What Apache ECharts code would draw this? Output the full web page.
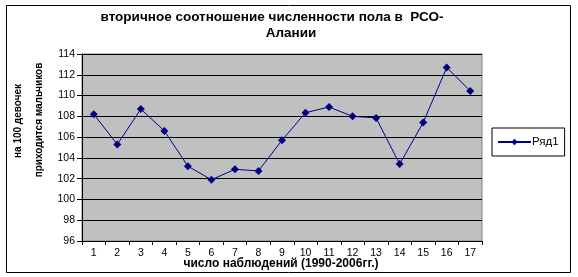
<!DOCTYPE html>
<html><head><meta charset="utf-8">
<script src="https://cdn.jsdelivr.net/npm/echarts@6/dist/echarts.min.js"></script>
<style>html,body{margin:0;padding:0;background:#fff}#c{width:578px;height:277px}</style>
</head><body><div id="c"></div>
<script>
const categories = ['1','2','3','4','5','6','7','8','9','10','11','12','13','14','15','16','17'];
const series1 = [108.2, 105.3, 108.7, 106.6, 103.2, 101.9, 102.9, 102.75, 105.7, 108.35, 108.9, 108.0, 107.85, 103.4, 107.4, 112.7, 110.45];
const seriesName = 'Ряд1';
const titleLine1 = 'вторичное соотношение численности пола в  РСО-';
const titleLine2 = 'Алании';
const yName1 = 'на 100 девочек';
const yName2 = 'приходится мальчиков';
const xName = 'число наблюдений (1990-2006гг.)';

const FONT = '"Liberation Sans", Arial, sans-serif';
const chart = echarts.init(document.getElementById('c'), null, {renderer:'canvas'});
chart.setOption({
  animation: false,
  backgroundColor: '#fff',
  graphic: [
    {type:'rect', left:6, top:5, shape:{width:564,height:267}, style:{fill:'transparent',stroke:'#000',lineWidth:1}, silent:true},
    {type:'text', x:272, y:17, style:{text:titleLine1, font:'bold 13.5px '+FONT, fill:'#000', textAlign:'center', textVerticalAlign:'middle'}},
    {type:'text', x:291, y:33, style:{text:titleLine2, font:'bold 13.5px '+FONT, fill:'#000', textAlign:'center', textVerticalAlign:'middle'}},
    {type:'text', x:18, y:121, rotation:Math.PI/2, style:{text:yName1, font:'bold 10px '+FONT, fill:'#000', textAlign:'center', textVerticalAlign:'middle'}},
    {type:'text', x:39, y:120, rotation:Math.PI/2, style:{text:yName2, font:'bold 10px '+FONT, fill:'#000', textAlign:'center', textVerticalAlign:'middle'}},
    {type:'text', x:281, y:264, style:{text:xName, font:'bold 12px '+FONT, fill:'#000', textAlign:'center', textVerticalAlign:'middle'}}
  ],
  legend: {
    left: 492, top: 128,
    data:[seriesName],
    borderColor:'#000', borderWidth:1, borderRadius:0,
    padding:[8,6,8,5],
    itemWidth:33, itemHeight:8,
    textStyle:{fontFamily:FONT, fontSize:11.5, color:'#000', padding:[0,0,0,-4]}
  },
  grid: {left:82, top:54, width:400, height:187, show:true, backgroundColor:'#C0C0C0', borderColor:'#808080', borderWidth:1},
  xAxis: {
    type:'category', data:categories, boundaryGap:true,
    axisLine:{show:true, lineStyle:{color:'#000', width:1}},
    axisTick:{show:true, alignWithLabel:false, length:4, lineStyle:{color:'#000'}},
    axisLabel:{color:'#000', fontFamily:FONT, fontSize:10.5, margin:7}
  },
  yAxis: {
    type:'value', min:96, max:114, interval:2,
    axisLine:{show:true, lineStyle:{color:'#000', width:1}},
    axisTick:{show:true, length:5, lineStyle:{color:'#000'}},
    axisLabel:{color:'#000', fontFamily:FONT, fontSize:10.5, margin:7},
    splitLine:{show:true, lineStyle:{color:'#000', width:1}}
  },
  series: [{
    name: seriesName, type:'line', data:series1,
    symbol:'diamond', symbolSize:8,
    lineStyle:{color:'#000080', width:1},
    itemStyle:{color:'#000080'}
  }]
});
</script></body></html>
